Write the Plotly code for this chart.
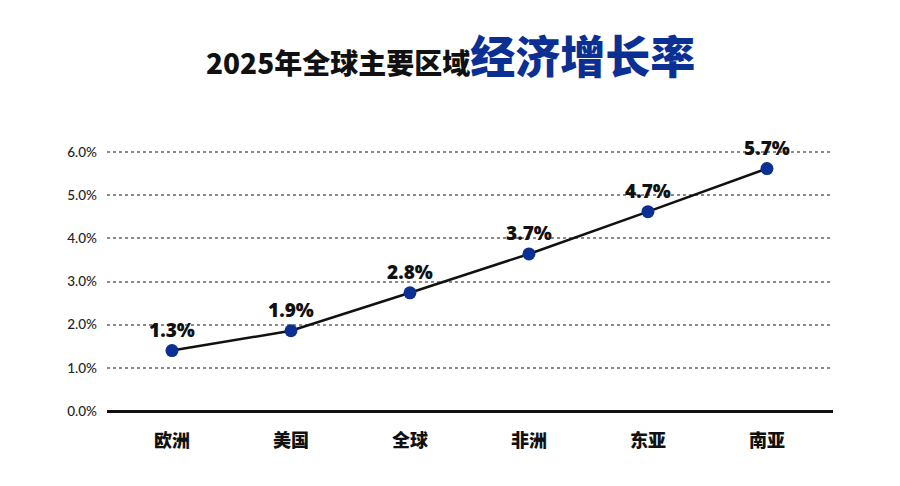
import plotly.graph_objects as go

regions = ["欧洲", "美国", "全球", "非洲", "东亚", "南亚"]
growth = [1.40, 1.86, 2.74, 3.64, 4.62, 5.62]
label_text = ["1.3%", "1.9%", "2.8%", "3.7%", "4.7%", "5.7%"]
y_ticks = [0, 1, 2, 3, 4, 5, 6]
y_tick_text = ["0.0%", "1.0%", "2.0%", "3.0%", "4.0%", "5.0%", "6.0%"]

BLUE = "#0b2f93"
FONT = "Lato, Noto Sans CJK SC"
CJK = "Noto Sans CJK SC"
OFF = 8  # page body margin

fig = go.Figure()
fig.add_trace(go.Scatter(
    x=regions, y=growth,
    mode="lines+markers+text",
    line=dict(color="#111111", width=2.5),
    marker=dict(color=BLUE, size=13),
    text=label_text,
    textposition="top center",
    textfont=dict(family="Open Sans", size=19, color="#111111", weight=800),
    cliponaxis=False,
    hoverinfo="skip",
))

fig.update_layout(
    width=900, height=486,
    paper_bgcolor="white", plot_bgcolor="white",
    margin=dict(l=107 - OFF, r=67 + OFF, t=150 - OFF, b=75 + OFF),
    showlegend=False,
    font=dict(family=FONT),
    xaxis=dict(
        type="category",
        range=[-0.546, 5.555],
        showgrid=False, zeroline=False,
        showline=False,
        ticks="",
        tickfont=dict(family=CJK, size=18, color="#111111", weight=900),
        ticklabelstandoff=17,
    ),
    yaxis=dict(
        range=[0, 6.05],
        tickvals=y_ticks,
        ticktext=y_tick_text,
        showgrid=True, gridcolor="#8a8a8a", griddash="dot", gridwidth=1.5,
        zeroline=True, zerolinecolor="#111111", zerolinewidth=2.5,
        tickfont=dict(family=FONT, size=13.5, color="#222222", weight=500),
        ticklabelstandoff=9,
    ),
    annotations=[dict(
        xref="paper", yref="paper", x=0.5, y=1.0, xshift=-20, yshift=96,
        xanchor="center", yanchor="middle", showarrow=False,
        text=("<span style='font-size:28px;color:#111111'>2025年全球主要区域</span>"
              "<span style='font-size:45px;color:" + BLUE + "'>经济增长率</span>"),
        font=dict(family=CJK, size=28, color="#111111", weight=900),
    )],
)

fig.write_html("out.html")
